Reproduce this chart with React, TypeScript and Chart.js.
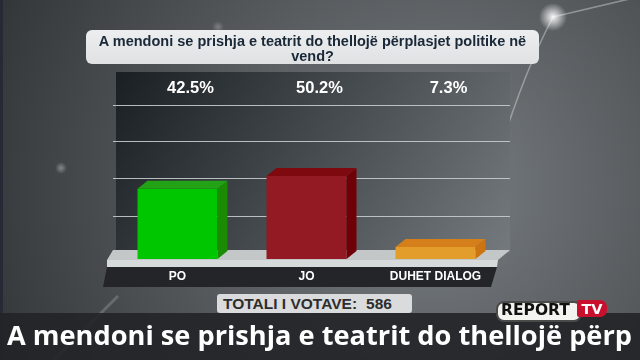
import React, { useEffect, useRef } from "react";
import { Chart, registerables } from "chart.js";

Chart.register(...registerables);

const categories = ["PO", "JO", "DUHET DIALOG"];
const values = [42.5, 50.2, 7.3];
const percentLabels = ["42.5%", "50.2%", "7.3%"];
const gridValues = [26.0, 48.4, 70.8, 93.1];
const frontColors = ["#00c600", "#931a22", "#e39d2b"];
const topColors = ["#22a214", "#7e0a10", "#d47f1a"];
const sideColors = ["#1a8c04", "#700008", "#cc7412"];
const questionText = "A mendoni se prishja e teatrit do thellojë përplasjet politike në vend?";
const totalLabel = "TOTALI I VOTAVE:";
const totalVotes = "586";
const tickerText = "A mendoni se prishja e teatrit do thellojë përp";
const logoWord = "REPORT";
const logoTv = "TV";

const DEPTH_X = 10;
const DEPTH_Y = 8;

const scenePlugin = {
  id: "scene",
  beforeDraw(chart: any) {
    const ctx = chart.ctx as CanvasRenderingContext2D;
    const { left, right, top, bottom } = chart.chartArea;
    const W = chart.width;
    const H = chart.height;
    ctx.save();
    // background
    const g = ctx.createRadialGradient(430, 190, 20, 430, 190, 470);
    g.addColorStop(0, "#767b7f");
    g.addColorStop(1, "#333639");
    ctx.fillStyle = g;
    ctx.fillRect(0, 0, W, H);
    ctx.fillStyle = "#262a36";
    ctx.fillRect(0, 0, 3, H);
    // light streaks
    ctx.strokeStyle = "rgba(255,255,255,0.35)";
    ctx.lineWidth = 1.6;
    ctx.beginPath();
    ctx.moveTo(642, -4);
    ctx.lineTo(553, 17);
    ctx.quadraticCurveTo(525, 70, 500, 150);
    ctx.stroke();
    ctx.strokeStyle = "rgba(255,255,255,0.18)";
    ctx.lineWidth = 3;
    ctx.beginPath();
    ctx.moveTo(118, 296);
    ctx.lineTo(52, 362);
    ctx.stroke();
    const glow = (x: number, y: number, r: number, a: number) => {
      const rg = ctx.createRadialGradient(x, y, 0, x, y, r);
      rg.addColorStop(0, `rgba(255,255,255,${a})`);
      rg.addColorStop(1, "rgba(255,255,255,0)");
      ctx.fillStyle = rg;
      ctx.fillRect(x - r, y - r, r * 2, r * 2);
    };
    glow(553, 17, 14, 0.95);
    glow(61, 168, 6, 0.35);
    glow(218, 27, 6, 0.25);
    // panel
    const px0 = left + 3;
    const px1 = right + DEPTH_X;
    const py0 = top;
    const py1 = bottom - 6;
    const pg = ctx.createLinearGradient(px0, py0, px1, py1 + 60);
    pg.addColorStop(0, "#1a1f23");
    pg.addColorStop(0.55, "#4e5458");
    pg.addColorStop(1, "#7a8084");
    ctx.fillStyle = pg;
    ctx.fillRect(px0, py0, px1 - px0, py1 - py0);
    // floor top face
    ctx.fillStyle = "#c3c7c7";
    ctx.beginPath();
    ctx.moveTo(left - 6, bottom + 1);
    ctx.lineTo(left, bottom - 9);
    ctx.lineTo(right + DEPTH_X, bottom - 9);
    ctx.lineTo(right - 2, bottom + 1);
    ctx.closePath();
    ctx.fill();
    // floor front face
    ctx.fillStyle = "#d6dada";
    ctx.beginPath();
    ctx.moveTo(left - 6, bottom + 1);
    ctx.lineTo(right - 2, bottom + 1);
    ctx.lineTo(right - 3, bottom + 8);
    ctx.lineTo(left - 6, bottom + 8);
    ctx.closePath();
    ctx.fill();
    // label strip
    ctx.fillStyle = "#232529";
    ctx.beginPath();
    ctx.moveTo(left - 6, bottom + 8);
    ctx.lineTo(right - 3, bottom + 8);
    ctx.lineTo(right - 9, bottom + 28);
    ctx.lineTo(left - 10, bottom + 28);
    ctx.closePath();
    ctx.fill();
    ctx.restore();
  },
  afterDatasetsDraw(chart: any) {
    const ctx = chart.ctx as CanvasRenderingContext2D;
    const meta = chart.getDatasetMeta(0);
    ctx.save();
    meta.data.forEach((bar: any, i: number) => {
      const { x, y, base, width } = bar.getProps(["x", "y", "base", "width"], true);
      const l = x - width / 2;
      const r = x + width / 2;
      // side
      ctx.fillStyle = sideColors[i];
      ctx.beginPath();
      ctx.moveTo(r, y);
      ctx.lineTo(r + DEPTH_X, y - DEPTH_Y);
      ctx.lineTo(r + DEPTH_X, base - DEPTH_Y);
      ctx.lineTo(r, base);
      ctx.closePath();
      ctx.fill();
      // top
      ctx.fillStyle = topColors[i];
      ctx.beginPath();
      ctx.moveTo(l, y);
      ctx.lineTo(l + DEPTH_X, y - DEPTH_Y);
      ctx.lineTo(r + DEPTH_X, y - DEPTH_Y);
      ctx.lineTo(r, y);
      ctx.closePath();
      ctx.fill();
      // percent label
      ctx.fillStyle = "#ffffff";
      ctx.font = 'bold 16.5px "Liberation Sans", Arial, sans-serif';
      ctx.textAlign = "center";
      ctx.textBaseline = "middle";
      ctx.fillText(percentLabels[i], x + 13, chart.chartArea.top + 16);
    });
    ctx.restore();
  },
};

export default function App() {
  const canvasRef = useRef<HTMLCanvasElement | null>(null);
  const tickerRef = useRef<HTMLDivElement | null>(null);

  useEffect(() => {
    document.body.style.margin = "0";
    const el = tickerRef.current;
    if (el) {
      el.style.transform = "none";
      const w = el.getBoundingClientRect().width;
      if (w > 0) el.style.transform = `scaleX(${625 / w})`;
    }
    const canvas = canvasRef.current;
    if (!canvas) return;
    const chart = new Chart(canvas, {
      type: "bar",
      data: {
        labels: categories,
        datasets: [
          {
            data: values,
            backgroundColor: frontColors,
            borderWidth: 0,
            barPercentage: 0.62,
            categoryPercentage: 1,
          },
        ],
      },
      options: {
        responsive: false,
        animation: false,
        events: [],
        layout: { padding: { left: 113, right: 130, top: 72, bottom: 66.6 } },
        plugins: {
          legend: { display: false },
          title: { display: false },
          tooltip: { enabled: false },
        },
        scales: {
          x: {
            type: "category",
            grid: { display: false, drawTicks: false },
            border: { display: false },
            ticks: {
              color: "#ffffff",
              font: { family: '"Liberation Sans", Arial, sans-serif', size: 12, weight: "bold" },
              padding: 10,
              maxRotation: 0,
              autoSkip: false,
            },
          },
          y: {
            position: "right",
            min: 0,
            max: 113.1,
            grid: { color: "rgba(200,204,206,0.9)", lineWidth: 1, drawTicks: true, tickLength: 10 },
            border: { display: false },
            ticks: { display: false },
            afterBuildTicks: (scale: any) => {
              scale.ticks = gridValues.map((v) => ({ value: v }));
            },
          },
        },
      },
      plugins: [scenePlugin],
    } as any);
    return () => chart.destroy();
  }, []);

  return (
    <div style={{ position: "relative", width: 640, height: 360, overflow: "hidden" }}>
      <canvas ref={canvasRef} width={640} height={360} style={{ display: "block", width: 640, height: 360 }} />
      <div
        style={{
          position: "absolute",
          left: 86,
          top: 30,
          width: 453,
          height: 34,
          boxSizing: "border-box",
          paddingTop: 3.8,
          background: "linear-gradient(#eceeef, #dfe1e2)",
          borderRadius: 6,
          textAlign: "center",
          font: 'bold 14.5px "Liberation Sans", Arial, sans-serif',
          lineHeight: "15px",
          color: "#1a2838",
        }}
      >
        {questionText}
      </div>
      <div
        style={{
          position: "absolute",
          left: 217,
          top: 294,
          width: 195,
          height: 19,
          boxSizing: "border-box",
          paddingLeft: 6,
          background: "#d9dbdc",
          borderRadius: 3,
          font: 'bold 15.5px "Liberation Sans", Arial, sans-serif',
          lineHeight: "19px",
          color: "#2d2d2d",
          whiteSpace: "nowrap",
        }}
      >
        {totalLabel}
        <span style={{ marginLeft: 9 }}>{totalVotes}</span>
      </div>
      <div
        style={{
          position: "absolute",
          left: 0,
          top: 313,
          width: 640,
          height: 47,
          background: "rgba(34,36,39,0.9)",
        }}
      />
      <div
        ref={tickerRef}
        style={{
          position: "absolute",
          left: 7,
          top: 321,
          font: 'bold 27.5px "Open Sans", sans-serif',
          lineHeight: "28px",
          color: "#ffffff",
          whiteSpace: "nowrap",
          transformOrigin: "0 0",
        }}
      >
        {tickerText}
      </div>
      <div
        style={{
          position: "absolute",
          left: 496,
          top: 301,
          width: 86,
          height: 21,
          boxSizing: "border-box",
          background: "#f3f3ef",
          border: "2px solid #4a4a4a",
          borderRadius: 8,
        }}
      />
      <div
        style={{
          position: "absolute",
          left: 501,
          top: 301,
          font: 'bold 15.5px "DejaVu Sans", sans-serif',
          lineHeight: "19px",
          color: "#111111",
          whiteSpace: "nowrap",
        }}
      >
        {logoWord}
      </div>
      <div
        style={{
          position: "absolute",
          left: 577,
          top: 300,
          width: 30,
          height: 17,
          background: "#c8102e",
          borderRadius: "2px 7px 7px 2px",
          font: 'bold 14.5px "DejaVu Sans", sans-serif',
          lineHeight: "19px",
          color: "#ffffff",
          textAlign: "center",
          overflow: "hidden",
        }}
      >
        {logoTv}
      </div>
    </div>
  );
}
